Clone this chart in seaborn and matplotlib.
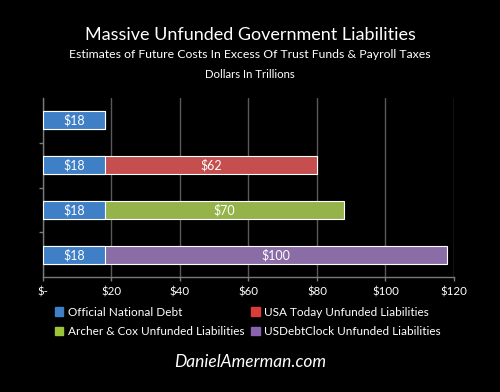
import pandas as pd
import matplotlib.pyplot as plt
import seaborn as sns
from matplotlib.patches import Patch

# Chart data (dollars in trillions)
rows = ["Official National Debt", "USA Today Unfunded Liabilities",
        "Archer & Cox Unfunded Liabilities", "USDebtClock Unfunded Liabilities"]
national_debt = [18, 18, 18, 18]
unfunded = [0, 62, 70, 100]
x_ticks = [0, 20, 40, 60, 80, 100, 120]
x_tick_labels = ["$-", "$20", "$40", "$60", "$80", "$100", "$120"]

colors = ["#3f7fc6", "#d93c3a", "#9cc43a", "#8a62b0"]

df = pd.DataFrame({"row": rows, "debt": national_debt, "unfunded": unfunded})
df["total"] = df["debt"] + df["unfunded"]

sns.set_style("dark")
plt.rcParams["font.family"] = ["Lato", "DejaVu Sans"]

fig = plt.figure(figsize=(5, 3.92), dpi=100, facecolor="black")
ax = fig.add_axes([0.086, 0.293, 0.822, 0.457])
ax.set_facecolor("black")

# total bars first (colored per row), national debt drawn on top -> stacked look
sns.barplot(data=df, y="row", x="total", hue="row", palette=colors, orient="h",
            width=0.4, dodge=False, legend=False, ax=ax, zorder=3,
            edgecolor="#ffffff30", linewidth=0.8)
sns.barplot(data=df, y="row", x="debt", color=colors[0], orient="h",
            width=0.4, ax=ax, zorder=4, saturation=1,
            edgecolor="#ffffff30", linewidth=0.8)
for p in ax.patches:
    p.set_alpha(1)

# value labels
debt_bars = ax.containers[-1]
ax.bar_label(debt_bars, labels=[f"${v}" for v in df["debt"]], label_type="center",
             color="white", fontsize=9, zorder=5)
for i, r in df.iterrows():
    if r["unfunded"] > 0:
        ax.text(r["debt"] + r["unfunded"] / 2, i, f"${r['unfunded']}", ha="center",
                va="center", color="white", fontsize=9, zorder=5)

ax.set_xlim(0, 120)
ax.set_ylim(3.5, -0.5)
ax.set_xticks(x_ticks)
ax.set_xticklabels(x_tick_labels, color="white", fontsize=8.3)
ax.set_yticks([0.5, 1.5, 2.5])
ax.set_yticklabels([])
ax.set_xlabel("")
ax.set_ylabel("")
ax.grid(axis="x", color="#5a5a5a", linewidth=1, zorder=0)
ax.grid(axis="y", visible=False)
ax.tick_params(axis="both", colors="#7a7a7a", length=3, width=1, direction="out",
               left=True, bottom=True)
ax.tick_params(axis="x", labelcolor="white", pad=4)
for side in ["top", "right"]:
    ax.spines[side].set_visible(False)
for side in ["left", "bottom"]:
    ax.spines[side].set_color("#7a7a7a")
    ax.spines[side].set_linewidth(1)

# titles
fig.text(0.5, 1 - 35 / 392, "Massive Unfunded Government Liabilities", ha="center",
         va="center", color="white", fontsize=13)
fig.text(0.5, 1 - 55 / 392, "Estimates of Future Costs In Excess Of Trust Funds & Payroll Taxes",
         ha="center", va="center", color="white", fontsize=8.8)
fig.text(0.5, 1 - 75 / 392, "Dollars In Trillions", ha="center", va="center",
         color="white", fontsize=8.2)

# legend, laid out row by row like the original
order = [0, 2, 1, 3]
handles = [Patch(facecolor=colors[k], edgecolor=colors[k], label=rows[k]) for k in order]
fig.legend(handles=handles, loc="center", bbox_to_anchor=(0.496, 1 - 322 / 392), ncol=2,
           frameon=False, fontsize=8.5, labelcolor="white", handlelength=0.7,
           handleheight=0.7, handletextpad=0.4, columnspacing=0.6, labelspacing=0.75)

fig.text(0.5, 1 - 362 / 392, "DanielAmerman.com", ha="center", va="center",
         color="white", fontsize=12.5, style="italic")

fig.savefig("out.png", dpi=100, facecolor="black")
